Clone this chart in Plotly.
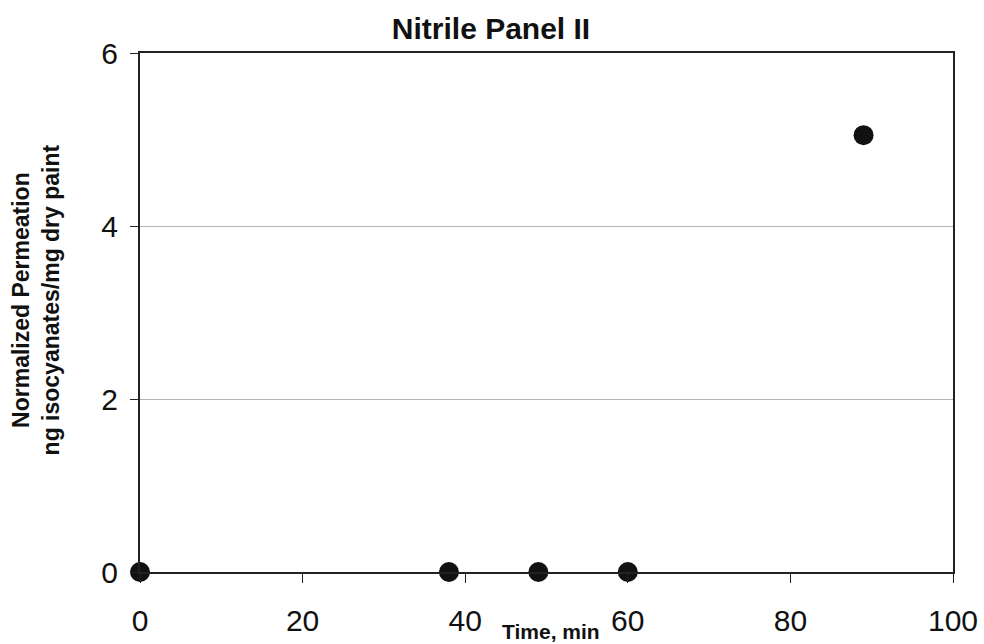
import plotly.graph_objects as go

# Permeation measurements for the nitrile glove panel
time_min = [0, 38, 49, 60, 89]
permeation = [0, 0, 0, 0, 5.05]

x_ticks = [0, 20, 40, 60, 80, 100]
y_ticks = [0, 2, 4, 6]

fig = go.Figure()
fig.add_trace(go.Scatter(
    x=time_min, y=permeation, mode="markers",
    marker=dict(size=20, color="#111111"),
    cliponaxis=False, showlegend=False,
))

fig.update_layout(
    width=984, height=644,
    margin=dict(l=140, r=31, t=53, b=72),
    paper_bgcolor="white", plot_bgcolor="white",
    font=dict(family="Arial, Liberation Sans, sans-serif", color="#111111"),
    title=dict(text="<b>Nitrile Panel II</b>", x=491 / 984, xanchor="center",
               y=1 - 28 / 644, yanchor="middle", font=dict(size=30)),
    xaxis=dict(range=[0, 100], tickvals=x_ticks, ticks="outside", ticklen=9,
               tickcolor="#222", showgrid=False, zeroline=False,
               showline=True, linecolor="#222", linewidth=2, mirror=True,
               tickfont=dict(size=30), ticklabelstandoff=12, automargin=False),
    yaxis=dict(range=[0, 6], tickvals=y_ticks, ticks="outside", ticklen=8,
               tickcolor="#222", showgrid=True, gridcolor="#b5b5b5", gridwidth=1,
               zeroline=False, showline=True, linecolor="#222", linewidth=2,
               mirror=True, tickfont=dict(size=30), ticklabelstandoff=6,
               automargin=False),
)

fig.add_annotation(text="<b>Time, min</b>", xref="paper", yref="paper",
                   x=0.505, y=-0.14, xanchor="center", yanchor="bottom",
                   showarrow=False, font=dict(size=21))
fig.add_annotation(text="<b>Normalized Permeation<br>ng isocyanates/mg dry paint</b>",
                   xref="paper", yref="paper", x=-0.1275, y=0.524, xanchor="center",
                   yanchor="middle", textangle=-90, showarrow=False,
                   font=dict(size=23))

fig.write_html("out.html")
